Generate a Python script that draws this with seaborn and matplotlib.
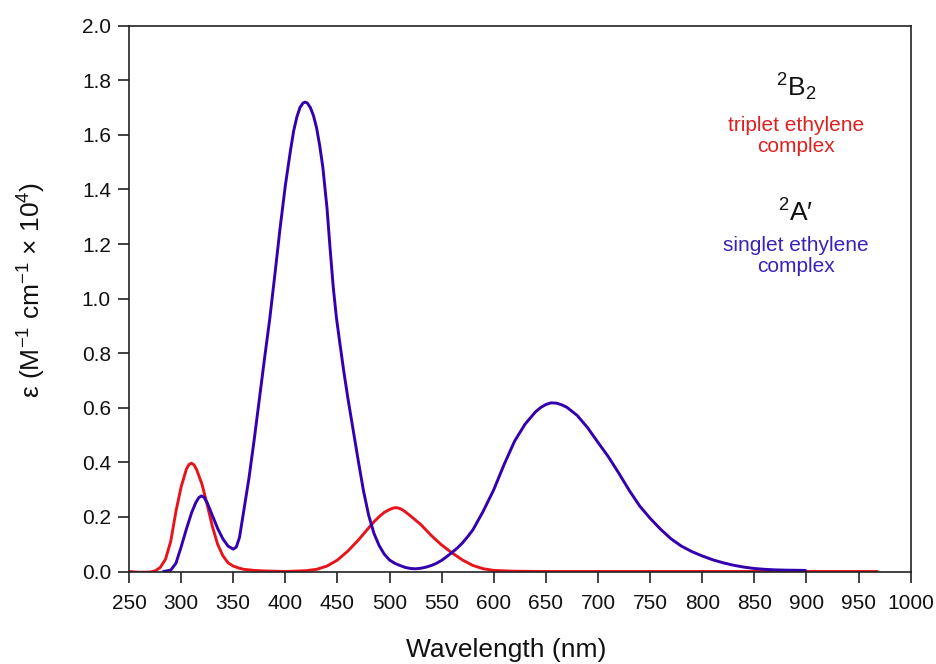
import matplotlib
matplotlib.use("Agg")
import matplotlib.pyplot as plt
import numpy as np
import pandas as pd
import seaborn as sns

# ---- data ----
triplet_nm = [250, 260, 270, 275, 280, 285, 290, 295, 300, 305, 307.5, 310, 312.5, 315, 320,
              325, 330, 335, 340, 345, 350, 355, 360, 370, 380, 400, 420, 430, 440, 450,
              460, 470, 480, 485, 490, 495, 500, 503, 506, 509, 512, 515, 520, 530, 540,
              550, 560, 570, 580, 590, 600, 620, 650, 700, 800, 900, 968]
triplet_eps = [0.0, -0.003, -0.002, 0.002, 0.015, 0.045, 0.11, 0.22, 0.31, 0.375, 0.392,
               0.397, 0.39, 0.372, 0.32, 0.245, 0.165, 0.10, 0.058, 0.032, 0.02, 0.013,
               0.008, 0.004, 0.002, 0.0, 0.003, 0.008, 0.02, 0.042, 0.075, 0.115, 0.16,
               0.182, 0.201, 0.217, 0.227, 0.232, 0.234, 0.232, 0.227, 0.219, 0.204, 0.172,
               0.132, 0.097, 0.068, 0.042, 0.022, 0.01, 0.004, 0.001, 0.0, 0.0, 0.0, 0.0,
               0.0]

singlet_nm = [283, 290, 295, 300, 305, 310, 314, 317, 319.5, 322, 325, 330, 335, 340, 345,
              350, 353, 356, 360, 365, 370, 375, 380, 385, 390, 395, 400, 405, 408, 411,
              414, 417, 419, 421, 424, 427, 430, 433, 436, 440, 443, 446, 449, 452, 456,
              460, 465, 470, 475, 480, 485, 490, 495, 500, 505, 510, 515, 520, 525, 530,
              535, 540, 545, 550, 555, 560, 565, 570, 575, 580, 590, 600, 610, 620, 630,
              640, 645, 650, 655, 660, 665, 670, 680, 690, 700, 710, 720, 730, 740, 750,
              760, 770, 780, 790, 800, 810, 820, 830, 840, 850, 860, 870, 880, 899]
singlet_eps = [0.0, 0.005, 0.03, 0.09, 0.155, 0.215, 0.252, 0.271, 0.277, 0.272, 0.252,
               0.205, 0.158, 0.12, 0.093, 0.082, 0.09, 0.125, 0.22, 0.34, 0.48, 0.63, 0.78,
               0.925, 1.09, 1.26, 1.415, 1.545, 1.615, 1.665, 1.70, 1.717, 1.72, 1.717,
               1.70, 1.67, 1.625, 1.56, 1.48, 1.33, 1.18, 1.04, 0.93, 0.845, 0.735, 0.635,
               0.52, 0.405, 0.295, 0.205, 0.14, 0.095, 0.063, 0.042, 0.03, 0.022, 0.015,
               0.011, 0.01, 0.012, 0.016, 0.022, 0.03, 0.041, 0.055, 0.07, 0.086, 0.105,
               0.128, 0.153, 0.222, 0.30, 0.393, 0.478, 0.54, 0.585, 0.601, 0.612, 0.618,
               0.617, 0.611, 0.602, 0.572, 0.527, 0.473, 0.42, 0.36, 0.297, 0.24, 0.195,
               0.155, 0.12, 0.093, 0.073, 0.057, 0.043, 0.032, 0.023, 0.016, 0.011, 0.008,
               0.006, 0.005, 0.004]

series_names = ["triplet", "singlet"]
series_colors = ["#E8141C", "#3300B0"]
x_ticks = list(range(250, 1001, 50))
y_ticks = [0.0, 0.2, 0.4, 0.6, 0.8, 1.0, 1.2, 1.4, 1.6, 1.8, 2.0]

# ---- style ----
sns.set_theme(style="ticks")
plt.rcParams["font.family"] = ["Liberation Sans", "DejaVu Sans"]
plt.rcParams["mathtext.fontset"] = "custom"
plt.rcParams["mathtext.rm"] = "Liberation Sans"
plt.rcParams["mathtext.it"] = "Liberation Sans:italic"
plt.rcParams["mathtext.bf"] = "Liberation Sans:bold"

df = pd.concat([
    pd.DataFrame({"nm": triplet_nm, "eps": triplet_eps, "state": series_names[0]}),
    pd.DataFrame({"nm": singlet_nm, "eps": singlet_eps, "state": series_names[1]}),
], ignore_index=True)

fig = plt.figure(figsize=(9.37, 6.64), dpi=100)
ax = fig.add_axes([0.1377, 0.1393, 0.8342, 0.822])

sns.lineplot(data=df, x="nm", y="eps", hue="state", hue_order=series_names,
             palette=dict(zip(series_names, series_colors)), ax=ax,
             linewidth=2.1, legend=False, sort=False, estimator=None)
for ln in ax.get_lines():
    ln.set_solid_joinstyle("round")
    ln.set_solid_capstyle("round")

ax.set_xlim(250, 1000)
ax.set_ylim(0, 2.0)
ax.set_xticks(x_ticks)
ax.set_xticklabels([str(t) for t in x_ticks])
ax.set_yticks(y_ticks)
ax.set_yticklabels([f"{t:.1f}" for t in y_ticks])

for s in ax.spines.values():
    s.set_visible(True)
    s.set_color("#222222")
    s.set_linewidth(1.2)
ax.tick_params(axis="both", direction="out", length=8, width=1.2, color="#222222",
               labelsize=15, labelcolor="#111111", top=False, right=False)
ax.tick_params(axis="x", pad=8)
ax.tick_params(axis="y", pad=5)

ax.set_xlabel("Wavelength (nm)", fontsize=19, color="#111111")
ax.set_ylabel("ε (M$^{-1}$ cm$^{-1}$ × 10$^{4}$)", fontsize=19, color="#111111")
ax.xaxis.set_label_coords(0.483, -0.122)
ax.yaxis.set_label_coords(-0.104, 0.516)

# annotations
ax.text(890, 1.776, "$^{2}$B$_{2}$", fontsize=19, ha="center", va="center", color="#111111")
ax.text(890, 1.595, "triplet ethylene\ncomplex", fontsize=15, ha="center", va="center",
        color="#E02020", linespacing=1.15)
ax.text(890, 1.313, "$^{2}$A′", fontsize=19, ha="center", va="center", color="#111111")
ax.text(890, 1.157, "singlet ethylene\ncomplex", fontsize=15, ha="center", va="center",
        color="#3A22B8", linespacing=1.15)

fig.savefig("out.png", dpi=100, facecolor="white")
